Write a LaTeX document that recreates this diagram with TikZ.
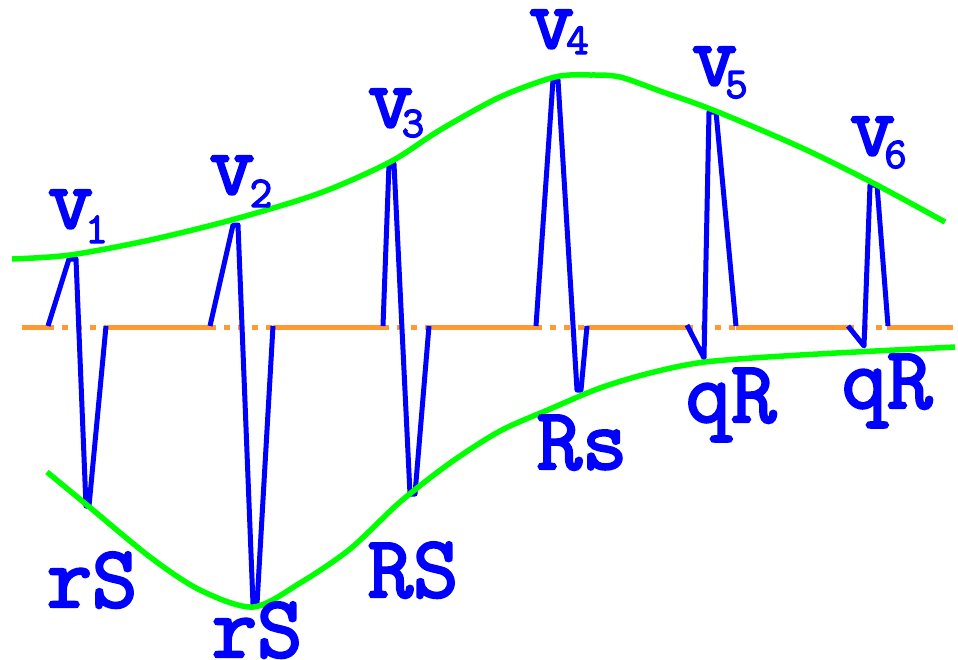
\documentclass[tikz,border=0pt]{standalone}
\usepackage{fontspec}
\newfontfamily\lblfont[FakeBold=2.8]{Latin Modern Mono}
\begin{document}
\begin{tikzpicture}[x=1pt,y=-1pt,
  trace/.style={draw=ecgblue,line width=5pt,line join=round},
  env/.style={draw=envgreen,line width=5.5pt},
  base/.style={draw=baseorange,line width=5pt},
  basedash/.style={draw=baseorange,line width=5pt,dash pattern=on 6pt off 8pt},
  biglbl/.style={text=ecgblue,inner sep=0pt,anchor=base,font=\lblfont\fontsize{88}{88}\selectfont},
  sublbl/.style={text=ecgblue,inner sep=0pt,anchor=base,font=\lblfont\fontsize{44}{44}\selectfont}]
\definecolor{ecgblue}{RGB}{0,0,255}
\definecolor{envgreen}{RGB}{0,255,0}
\definecolor{baseorange}{RGB}{255,153,51}
\useasboundingbox (0,0) rectangle (958,659);
% baseline
\draw[base] (22,327) -- (48,327);
\draw[basedash] (48,327) -- (106,327);
\draw[base] (106,327) -- (210,327);
\draw[basedash] (210,327) -- (273,327);
\draw[base] (273,327) -- (383,327);
\draw[basedash] (383,327) -- (429,327);
\draw[base] (429,327) -- (536,327);
\draw[basedash] (536,327) -- (587,327);
\draw[base] (587,327) -- (687,327);
\draw[basedash] (687,327) -- (736,327);
\draw[base] (736,327) -- (848,327);
\draw[basedash] (848,327) -- (887,327);
\draw[base] (887,327) -- (953,327);
% QRS complexes
\draw[trace] (48,326) -- (69,259) -- (76,259) -- (86,506) -- (89,506) -- (106,326);
\draw[trace] (210,326) -- (233,225) -- (238,225) -- (253,604) -- (257,604) -- (273,326);
\draw[trace] (383,326) -- (389,164) -- (394,164) -- (410,494) -- (415,494) -- (429,326);
\draw[trace] (536,326) -- (553,80) -- (558,80) -- (577,390) -- (581,390) -- (587,326);
\draw[trace] (687,325) -- (704,358) -- (709,112) -- (716,112) -- (736,326);
\draw[trace] (848,326) -- (864,346) -- (870,185) -- (877,185) -- (888,326);
% envelopes
\draw[env] plot[smooth,tension=0.5] coordinates {(12,259) (70,255) (150,240) (235,219) (320,193) (390,162) (440,130) (500,97) (555,77) (590,75) (620,77) (660,91) (713,110) (800,147) (873,183) (945,222)};
\draw[env] plot[smooth,tension=0.5] coordinates {(47,472) (87,505) (150,557) (200,590) (253,607) (300,583) (350,549) (400,502) (450,463) (500,431) (550,409) (600,388) (650,373) (705,362) (800,355) (955,347)};
% labels
\node[biglbl] (v1) at (70.5,228) {v};
\node[sublbl] (v1s) at (96.5,243) {1};
\node[biglbl] (v2) at (232,194) {v};
\node[sublbl] (v2s) at (261,207) {2};
\node[biglbl] (v3) at (390.5,127) {v};
\node[sublbl] (v3s) at (413,137) {3};
\node[biglbl] (v4) at (551.5,48) {v};
\node[sublbl] (v4s) at (577.5,54) {4};
\node[biglbl] (v5) at (714.5,85) {v};
\node[sublbl] (v5s) at (736.5,98) {5};
\node[biglbl] (v6) at (872.5,155) {v};
\node[sublbl] (v6s) at (895.5,168) {6};
\node[biglbl] (l1) at (92,607) {rS};
\node[biglbl] (l2) at (257,657) {rS};
\node[biglbl] (l3) at (413,597) {RS};
\node[biglbl] (l4) at (582,469) {Rs};
\node[biglbl] (l5) at (731,422) {qR};
\node[biglbl] (l6) at (887,408) {qR};
\end{tikzpicture}
\end{document}
